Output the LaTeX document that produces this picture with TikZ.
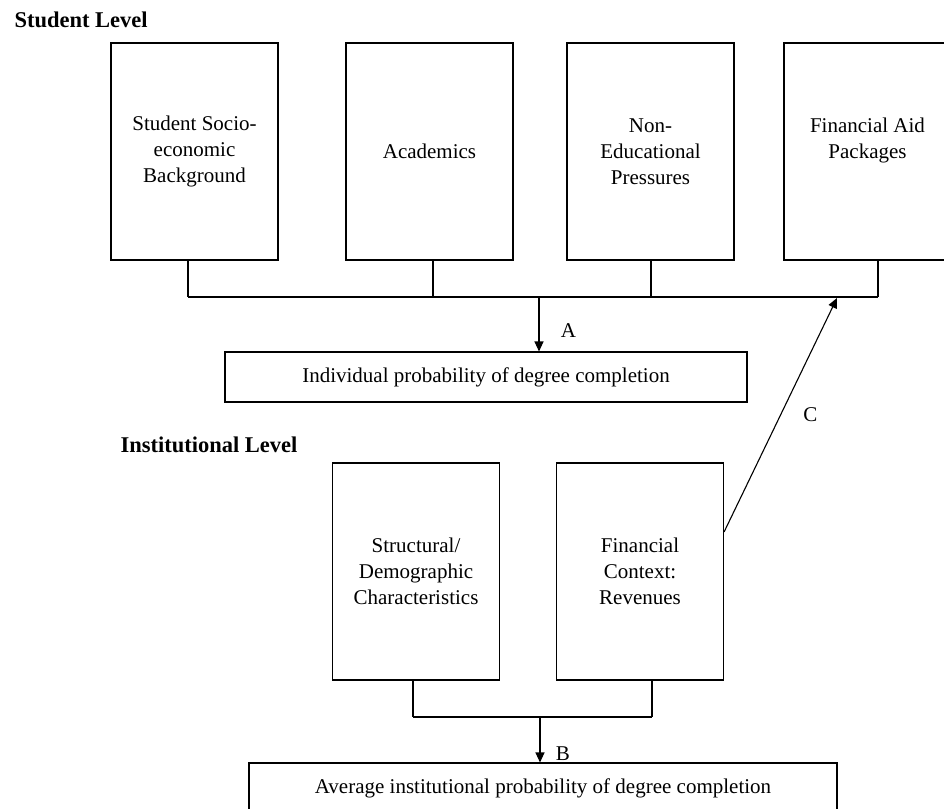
\documentclass[tikz,border=0pt]{standalone}
\usepackage{fontspec}
\setmainfont{Liberation Serif}
\usetikzlibrary{arrows.meta}

\begin{document}
\begin{tikzpicture}[x=1pt, y=-1pt, >={Triangle[length=10pt,width=9pt]},
  every node/.style={font=\fontsize{21}{26}\selectfont},
  factor/.style={draw, line width=1.1pt, minimum width=167pt, minimum height=217pt, inner sep=0pt, align=center},
  outcome/.style={draw, line width=1.1pt, minimum height=50pt, inner sep=0pt},
  level/.style={anchor=base west, font=\bfseries\fontsize{22.5}{27}\selectfont},
  link/.style={line width=1.1pt}]
  \useasboundingbox (0,0) rectangle (944,808);

  % student level
  \node [level] (student) at (11,28) {Student Level};
  \foreach \n/\x/\t in {socio/194.5/{Student Socio-\\economic\\Background}, acad/429.5/{Academics}, press/650.5/{Non-\\Educational\\Pressures}, aid/867.5/{Financial Aid\\Packages\\~}}
    \node [factor] (\n) at (\x,151.5) {\t};

  \node [outcome, minimum width=522pt] (indiv) at (486,377) {Individual probability of degree completion};

  \coordinate (busA) at (0,297);
  \foreach \n/\d in {socio/-6.5, acad/3.5, press/0.5, aid/10.5}
    \draw [link] ([xshift=\d pt]\n.south) -- ([xshift=\d pt]\n.south |- busA);
  \draw [link] ([xshift=-6.5pt]socio.south |- busA) -- ([xshift=10.5pt]aid.south |- busA);
  \draw [link, ->] ([xshift=53pt]indiv.north |- busA) -- node [pos=0.62, right=18pt] {A} ([xshift=53pt]indiv.north);

  % institutional level
  \node [level] (inst) at (117,452) {Institutional Level};
  \node [factor] (struct) at (416,571.5) {Structural/\\Demographic\\Characteristics};
  \node [factor] (fin) at (640,571.5) {Financial\\Context:\\Revenues};

  \node [outcome, minimum width=588pt] (avg) at (543,788) {Average institutional probability of degree completion};

  \coordinate (busB) at (0,717);
  \foreach \n/\d in {struct/-3, fin/12}
    \draw [link] ([xshift=\d pt]\n.south) -- ([xshift=\d pt]\n.south |- busB);
  \draw [link] ([xshift=-3pt]struct.south |- busB) -- ([xshift=12pt]fin.south |- busB);
  \draw [link, ->] ([xshift=-3pt]avg.north |- busB) -- node [pos=0.8, right=12pt] {B} ([xshift=-3pt]avg.north);

  % revenues feed the aid packages
  \coordinate (cend) at (837,298);
  \draw [link, ->] ([yshift=39.5pt]fin.east) -- node [midway, right=19pt] {C} (cend);
\end{tikzpicture}
\end{document}
